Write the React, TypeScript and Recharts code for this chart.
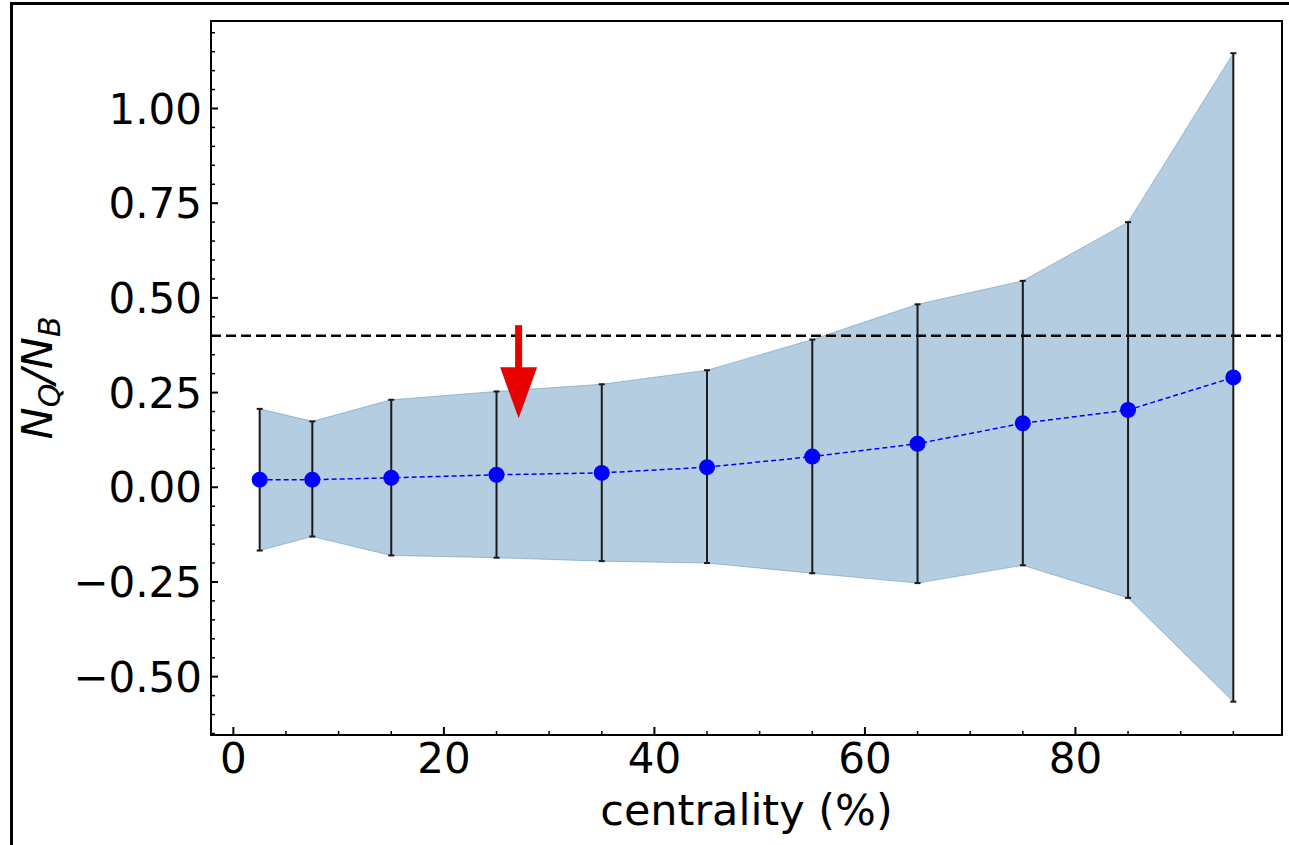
import { ComposedChart, Area, Line, ErrorBar, XAxis, YAxis, ReferenceLine, ReferenceArea } from 'recharts'

// centrality bins (%) and measured ratio with its uncertainty band
const centrality = [2.5, 7.5, 15, 25, 35, 45, 55, 65, 75, 85, 95]
const ratio = [0.02, 0.02, 0.025, 0.033, 0.038, 0.053, 0.081, 0.115, 0.169, 0.204, 0.29]
const upper = [0.207, 0.174, 0.231, 0.253, 0.272, 0.309, 0.39, 0.483, 0.545, 0.7, 1.146]
const lower = [-0.167, -0.13, -0.18, -0.186, -0.195, -0.2, -0.227, -0.253, -0.206, -0.292, -0.566]

const threshold = 0.4
const arrow = { x: 27.1, top: 0.428, tip: 0.182 }

const xTicks = [0, 5, 10, 15, 20, 25, 30, 35, 40, 45, 50, 55, 60, 65, 70, 75, 80, 85, 90, 95]
const yTicks = [
  -0.65, -0.6, -0.55, -0.5, -0.45, -0.4, -0.35, -0.3, -0.25, -0.2, -0.15, -0.1, -0.05, 0,
  0.05, 0.1, 0.15, 0.2, 0.25, 0.3, 0.35, 0.4, 0.45, 0.5, 0.55, 0.6, 0.65, 0.7, 0.75, 0.8,
  0.85, 0.9, 0.95, 1, 1.05, 1.1, 1.15, 1.2,
]

const xDomain = [-2.125, 99.625]
const yDomain = [-0.654, 1.231]

const FONT = '"DejaVu Sans", Verdana, sans-serif'
const FS = 42

const data = centrality.map((c, i) => ({
  x: c,
  y: ratio[i],
  band: [lower[i], upper[i]],
  err: [ratio[i] - lower[i], upper[i] - ratio[i]],
}))

const isMajorY = (v: number) => Math.abs(v / 0.25 - Math.round(v / 0.25)) < 1e-6

const YTick = (props: any) => {
  const { x, y, payload } = props
  const v = payload.value
  const major = isMajorY(v)
  return (
    <g>
      <line x1={x} x2={x + (major ? 7 : 4)} y1={y} y2={y} stroke="#000" strokeWidth={major ? 2 : 1.5} />
      {major && (
        <text x={x - 9} y={y} dy="0.36em" textAnchor="end" fontSize={FS} fontFamily={FONT} fill="#000">
          {v.toFixed(2).replace('-', '\u2212')}
        </text>
      )}
    </g>
  )
}

const XTick = (props: any) => {
  const { x, y, payload } = props
  const v = payload.value
  const major = v % 20 === 0
  return (
    <g>
      <line x1={x} x2={x} y1={y} y2={y - (major ? 8 : 4)} stroke="#000" strokeWidth={major ? 2 : 1.5} />
      {major && (
        <text x={x} y={y + 38} textAnchor="middle" fontSize={FS} fontFamily={FONT} fill="#000">
          {v}
        </text>
      )}
    </g>
  )
}

const XLabel = (props: any) => {
  const vb = props.viewBox || { x: 211, y: 735, width: 1071, height: 110 }
  return (
    <text x={vb.x + vb.width / 2} y={vb.y + 90} textAnchor="middle" fontSize={43} fontFamily={FONT} fill="#000">
      centrality (%)
    </text>
  )
}

const YLabel = (props: any) => {
  const vb = props.viewBox || { x: 0, y: 21, width: 211, height: 714 }
  const cx = vb.x + 52
  const cy = vb.y + vb.height / 2
  return (
    <text
      x={cx}
      y={cy}
      transform={`rotate(-90, ${cx}, ${cy})`}
      textAnchor="middle"
      fontSize={43}
      fontFamily={FONT}
      fontStyle="italic"
      fill="#000"
    >
      N<tspan fontSize={30} dy={8}>Q</tspan>
      <tspan dy={-8}>/N</tspan>
      <tspan fontSize={30} dy={8}>B</tspan>
    </text>
  )
}

// red arrow drawn along a data-space segment
const ArrowShape = (props: any) => {
  const { x1, y1, x2, y2 } = props
  const headLen = 51
  const headHalf = 18.5
  const shaftHalf = 3.5
  const baseY = y2 - headLen
  return (
    <g>
      <rect x={x1 - shaftHalf} y={y1} width={shaftHalf * 2} height={baseY - y1 + 1} fill="#e60000" />
      <polygon points={`${x2 - headHalf},${baseY} ${x2 + headHalf},${baseY} ${x2},${y2}`} fill="#e60000" />
    </g>
  )
}

export default function App() {
  return (
    <div style={{ position: 'absolute', left: 0, top: 0, width: 1289, height: 845, background: '#fff' }}>
      <div style={{ position: 'absolute', left: 10, top: 2, width: 1279, height: 3, background: '#000' }} />
      <div style={{ position: 'absolute', left: 10, top: 2, width: 2.5, height: 843, background: '#000' }} />
      <ComposedChart
        width={1289}
        height={845}
        data={data}
        margin={{ top: 21, right: 7, bottom: 0, left: 0 }}
        style={{ position: 'absolute', left: 0, top: 0 }}
      >
        <XAxis
          dataKey="x"
          type="number"
          domain={xDomain}
          allowDataOverflow
          ticks={xTicks}
          interval={0}
          tickSize={0}
          tickMargin={0}
          tickLine={false}
          tick={<XTick />}
          axisLine={{ stroke: '#000', strokeWidth: 2 }}
          height={110}
          label={<XLabel />}
        />
        <YAxis
          type="number"
          domain={yDomain}
          allowDataOverflow
          ticks={yTicks}
          interval={0}
          tickSize={0}
          tickMargin={0}
          tickLine={false}
          tick={<YTick />}
          axisLine={{ stroke: '#000', strokeWidth: 2 }}
          width={211}
          label={<YLabel />}
        />
        <Area
          dataKey="band"
          type="linear"
          fill="steelblue"
          fillOpacity={0.4}
          stroke="steelblue"
          strokeOpacity={0.45}
          strokeWidth={1}
          isAnimationActive={false}
          activeDot={false}
        />
        <ReferenceLine y={threshold} stroke="#000" strokeWidth={2.5} strokeDasharray="10 5" />
        <Line
          dataKey="y"
          type="linear"
          stroke="#0000ff"
          strokeWidth={1.5}
          strokeDasharray="5 3"
          dot={{ r: 8, fill: '#0000ff', stroke: 'none', strokeDasharray: '' }}
          activeDot={false}
          isAnimationActive={false}
        >
          <ErrorBar dataKey="err" width={3} stroke="#1a1a1a" strokeWidth={2} direction="y" isAnimationActive={false} />
        </Line>
        <ReferenceLine
          segment={[{ x: arrow.x, y: arrow.top }, { x: arrow.x, y: arrow.tip }]}
          shape={<ArrowShape />}
        />
        <ReferenceArea
          x1={xDomain[0]}
          x2={xDomain[1]}
          y1={yDomain[0]}
          y2={yDomain[1]}
          fill="none"
          fillOpacity={0}
          stroke="#000"
          strokeWidth={2}
          ifOverflow="visible"
        />
      </ComposedChart>
    </div>
  )
}
